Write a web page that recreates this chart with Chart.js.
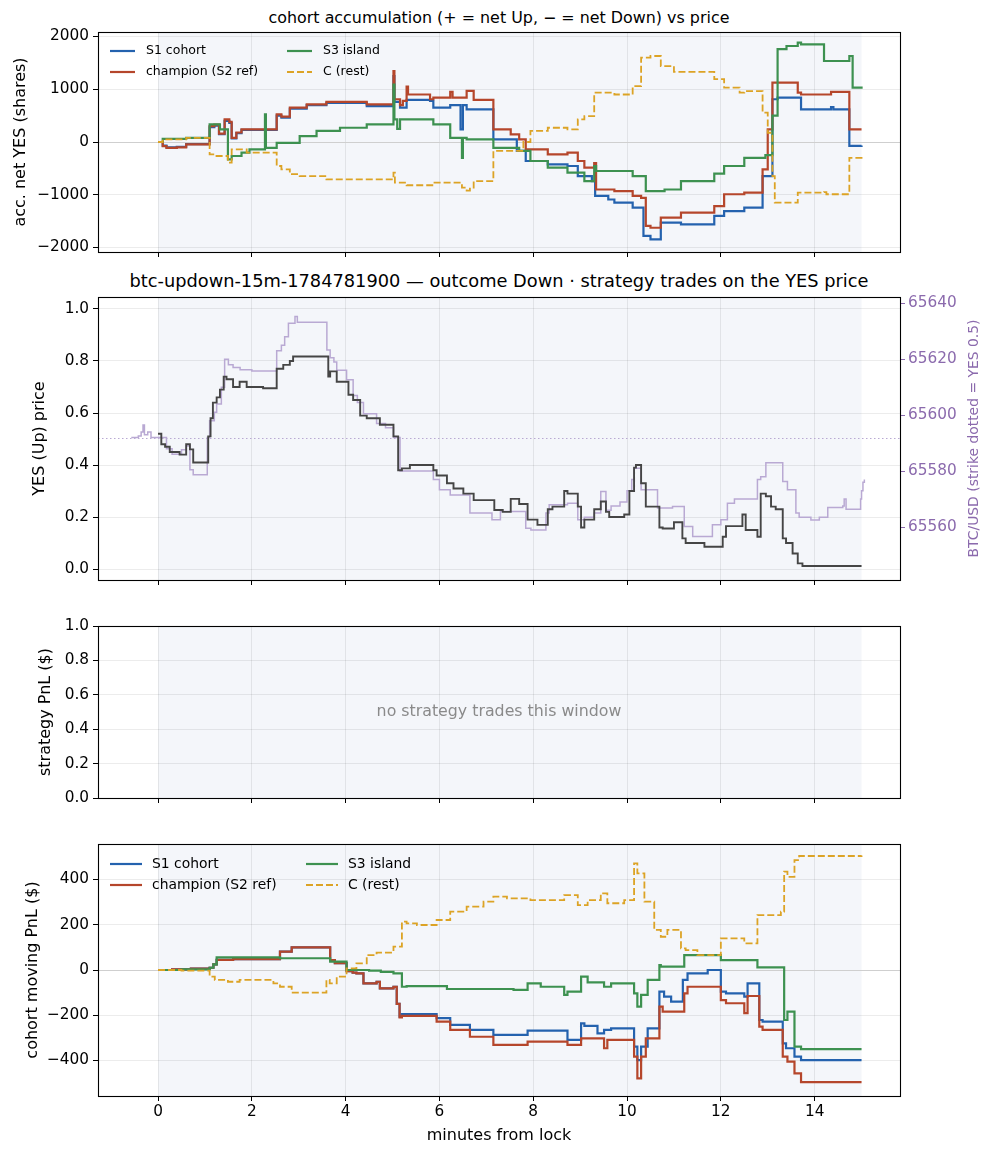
<!DOCTYPE html>
<html>
<head>
<meta charset="utf-8">
<script src="https://cdn.jsdelivr.net/npm/chart.js@4.4.1/dist/chart.umd.min.js"></script>
<style>
  body { margin: 0; background: #fff; width: 993px; height: 1156px; position: relative; overflow: hidden; font-family: "DejaVu Sans", sans-serif; }
  .panel { position: absolute; left: 0; width: 993px; }
  .ttl { position: absolute; left: 98px; width: 802px; text-align: center; color: #000; white-space: nowrap; line-height: 1; }
</style>
</head>
<body>
<div class="ttl" style="top:10px;font-size:15.9px">cohort accumulation (+ = net Up, &minus; = net Down) vs price</div>
<div class="ttl" style="top:272px;font-size:17.8px">btc-updown-15m-1784781900 &mdash; outcome Down &middot; strategy trades on the YES price</div>
<div class="panel" style="top:0;height:268px"><canvas id="accChart" width="993" height="268"></canvas></div>
<div class="panel" style="top:268px;height:332px"><canvas id="priceChart" width="993" height="332"></canvas></div>
<div class="panel" style="top:600px;height:215px"><canvas id="stratChart" width="993" height="215"></canvas></div>
<div class="panel" style="top:815px;height:341px"><canvas id="pnlChart" width="993" height="341"></canvas></div>
<script>
// Axis setup
const xTicks = [0, 2, 4, 6, 8, 10, 12, 14];
const lockSpan = [0, 15];
const accTicks = [-2000, -1000, 0, 1000, 2000];
const yesTicks = [0, 0.2, 0.4, 0.6, 0.8, 1.0];
const btcTicks = [65560, 65580, 65600, 65620, 65640];
const stratTicks = [0, 0.2, 0.4, 0.6, 0.8, 1.0];
const pnlTicks = [-400, -200, 0, 200, 400];
const strikeBtc = 65591.8;

const seriesNames = ['S1 cohort', 'champion (S2 ref)', 'S3 island', 'C (rest)'];

// cohort accumulation: [minutes, net YES shares]
const accS1 = [[0,0],[0.1,-70],[0.18,-100],[0.4,-90],[0.6,-40],[1.1,280],[1.2,310],[1.3,150],[1.42,400],[1.52,360],[1.57,70],[1.67,170],[1.78,230],[2.3,230],[2.53,500],[2.63,460],[2.81,630],[3.17,700],[3.59,740],[4.45,680],[5.02,1250],[5.04,760],[5.16,650],[5.3,800],[5.8,780],[5.87,650],[6.23,700],[6.45,240],[6.5,700],[6.58,620],[7.15,50],[7.65,-170],[7.84,-360],[8.31,-425],[8.73,-455],[8.95,-645],[9.25,-740],[9.32,-1020],[9.6,-1090],[9.73,-1150],[10.12,-1245],[10.35,-1780],[10.5,-1845],[10.72,-1530],[11.15,-1560],[11.86,-1400],[12.07,-1310],[12.5,-1245],[12.89,-645],[13.1,810],[13.21,840],[13.71,620],[14.35,660],[14.4,620],[14.74,-75],[15,-65]];
const accChamp = [[0,0],[0.1,-80],[0.18,-110],[0.4,-100],[0.6,-45],[1.1,300],[1.2,330],[1.3,160],[1.42,430],[1.52,380],[1.57,80],[1.67,180],[1.78,240],[2.3,240],[2.53,525],[2.63,480],[2.81,650],[3.17,715],[3.59,760],[4.45,715],[5.02,1346],[5.04,810],[5.16,700],[5.22,780],[5.3,1050],[5.33,900],[5.8,810],[5.87,840],[6.23,950],[6.28,840],[6.58,970],[6.73,800],[7.15,240],[7.52,145],[7.7,50],[7.84,-140],[8.31,-235],[8.73,-200],[8.95,-360],[9.09,-487],[9.3,-400],[9.34,-900],[9.73,-930],[10.12,-1020],[10.3,-1060],[10.4,-1590],[10.5,-1625],[10.72,-1435],[11.15,-1340],[11.86,-1215],[12.07,-990],[12.5,-960],[12.89,-520],[13.0,240],[13.1,1125],[13.64,935],[13.71,900],[14.35,950],[14.74,240],[15,240]];
const accS3 = [[0,0],[0.1,60],[0.6,80],[1.1,335],[1.32,240],[1.49,-330],[1.57,-265],[1.78,-200],[1.95,-140],[2.28,525],[2.3,-110],[2.53,-15],[3.02,110],[3.38,210],[3.88,270],[4.45,335],[5.02,1090],[5.04,430],[5.1,250],[5.16,430],[5.8,430],[5.87,335],[6.23,80],[6.48,-300],[6.5,80],[6.58,50],[7.15,-110],[7.52,-110],[7.7,-170],[7.94,-360],[8.31,-487],[8.73,-580],[9.09,-740],[9.3,-455],[9.34,-550],[10.12,-645],[10.4,-930],[10.8,-900],[11.15,-740],[11.86,-600],[12.07,-455],[12.5,-300],[12.95,-250],[13.1,500],[13.21,1760],[13.4,1820],[13.64,1885],[13.71,1850],[14.2,1535],[14.74,1630],[14.81,1030],[15,1050]];
const accRest = [[0,0],[0.1,50],[0.6,80],[1.1,-235],[1.2,-265],[1.49,-390],[1.57,-140],[1.89,-200],[2.53,-455],[2.63,-520],[2.81,-610],[3.02,-645],[3.59,-710],[5.02,-580],[5.05,-770],[5.3,-820],[5.87,-770],[6.48,-865],[6.58,-920],[6.65,-865],[6.73,-740],[7.15,-170],[7.52,-170],[7.79,0],[7.94,210],[8.31,270],[8.73,240],[8.95,430],[9.09,490],[9.3,935],[9.73,900],[10.12,1060],[10.3,1600],[10.5,1630],[10.72,1440],[11.0,1330],[11.86,1190],[12.07,1030],[12.4,935],[12.5,965],[12.89,555],[13.0,175],[13.1,-645],[13.15,-1150],[13.64,-960],[14.2,-950],[14.25,-990],[14.74,-300],[15,-285]];

// YES (Up) price and BTC/USD
const yesPrice = [[0,0.52],[0.07,0.48],[0.15,0.47],[0.25,0.45],[0.46,0.44],[0.6,0.48],[0.68,0.46],[0.75,0.41],[1.07,0.51],[1.12,0.58],[1.17,0.64],[1.25,0.66],[1.32,0.69],[1.4,0.74],[1.46,0.73],[1.6,0.70],[1.74,0.72],[1.89,0.70],[2.24,0.695],[2.53,0.77],[2.67,0.785],[2.81,0.80],[2.88,0.817],[3.63,0.74],[3.67,0.76],[3.81,0.72],[4.06,0.67],[4.16,0.65],[4.31,0.59],[4.45,0.58],[4.73,0.555],[5.02,0.51],[5.12,0.38],[5.2,0.387],[5.37,0.40],[5.87,0.38],[5.94,0.36],[6.16,0.33],[6.3,0.31],[6.51,0.29],[6.73,0.265],[7.17,0.227],[7.35,0.22],[7.52,0.27],[7.7,0.25],[7.88,0.19],[8.09,0.17],[8.31,0.23],[8.41,0.24],[8.66,0.30],[8.73,0.29],[8.95,0.24],[9.02,0.16],[9.09,0.19],[9.3,0.23],[9.44,0.26],[9.55,0.22],[9.62,0.20],[9.94,0.21],[10.05,0.30],[10.15,0.39],[10.19,0.40],[10.3,0.33],[10.4,0.24],[10.69,0.16],[10.76,0.156],[11.0,0.18],[11.18,0.118],[11.25,0.10],[11.65,0.086],[12.04,0.124],[12.11,0.165],[12.46,0.21],[12.53,0.15],[12.78,0.124],[12.85,0.29],[12.96,0.28],[13.07,0.24],[13.17,0.23],[13.32,0.118],[13.39,0.10],[13.53,0.06],[13.64,0.022],[13.74,0.012],[15,0.012]];
const btcUsd = [[-0.57,65592],[-0.42,65592.5],[-0.36,65594],[-0.32,65596.5],[-0.29,65593],[-0.22,65594],[-0.15,65592],[0,65592],[0.18,65588],[0.3,65586],[0.5,65587.6],[0.6,65589],[0.68,65580.5],[0.75,65578.7],[1.05,65592],[1.1,65598],[1.2,65601],[1.25,65604],[1.35,65610],[1.42,65620],[1.5,65618],[1.6,65617],[1.75,65616.2],[2.0,65615.8],[2.53,65623],[2.63,65625],[2.7,65628],[2.78,65632.8],[2.92,65635.2],[2.97,65633.2],[3.6,65623.3],[3.67,65620.5],[3.75,65619],[3.81,65616],[4.02,65612.6],[4.16,65607],[4.25,65604.5],[4.38,65600.5],[4.66,65597],[4.85,65595.5],[5.02,65592],[5.16,65580],[5.87,65577],[6.0,65573.3],[6.23,65571.5],[6.65,65565],[7.12,65562.6],[7.3,65565.6],[7.84,65559.6],[7.95,65559],[8.27,65565],[8.34,65568],[8.73,65568.5],[8.95,65562.6],[9.09,65563.5],[9.3,65565],[9.44,65572.7],[9.55,65566],[9.66,65567.5],[9.85,65569],[10.0,65573],[10.1,65577],[10.15,65581],[10.3,65573.3],[10.65,65566.8],[10.97,65567.4],[11.22,65560.2],[11.4,65556.6],[11.82,65560.8],[12.0,65562.6],[12.14,65568.5],[12.29,65570],[12.78,65577],[12.85,65578],[12.96,65583],[13.32,65576.3],[13.42,65573.3],[13.6,65565],[13.67,65563.5],[13.92,65562.5],[14.1,65563.5],[14.28,65567],[14.6,65567.5],[14.63,65570],[14.67,65566.4],[14.95,65566.4],[14.98,65570],[15.0,65573],[15.03,65576],[15.06,65577]];

// cohort moving PnL ($)
const pnlS1 = [[0,0],[0.3,3],[0.7,6],[1.1,10],[1.18,25],[1.25,45],[1.6,48],[2.6,81],[2.85,100],[3.67,44],[3.77,30],[4.02,-5],[4.15,-12],[4.23,-15],[4.38,-59],[4.66,-52],[4.73,-81],[5.02,-75],[5.09,-150],[5.15,-206],[5.2,-195],[5.94,-213],[6.23,-243],[6.65,-265],[7.15,-287],[7.88,-268],[8.73,-309],[9.02,-236],[9.09,-247],[9.37,-280],[9.51,-265],[9.66,-258],[10.15,-339],[10.22,-398],[10.3,-339],[10.44,-258],[10.69,-96],[10.79,-118],[10.94,-140],[11.19,-44],[11.29,-15],[11.72,0],[12.0,-96],[12.11,-103],[12.5,-118],[12.57,-59],[12.82,-221],[12.89,-228],[13.32,-324],[13.39,-346],[13.57,-383],[13.71,-398],[15,-398]];
const pnlChamp = [[0,0],[0.3,3],[0.7,6],[1.1,10],[1.18,25],[1.25,45],[1.6,48],[2.6,81],[2.85,100],[3.67,44],[3.77,30],[4.02,-5],[4.15,-12],[4.23,-15],[4.38,-59],[4.66,-52],[4.73,-81],[5.02,-75],[5.09,-150],[5.15,-210],[5.2,-203],[5.94,-228],[6.23,-265],[6.65,-295],[7.15,-331],[7.88,-317],[8.73,-331],[9.02,-302],[9.51,-346],[9.58,-309],[10.15,-383],[10.22,-479],[10.3,-383],[10.4,-302],[10.69,-162],[10.76,-184],[11.22,-103],[11.29,-74],[12.0,-133],[12.11,-147],[12.5,-191],[12.57,-115],[12.82,-250],[12.89,-265],[13.32,-383],[13.42,-405],[13.57,-457],[13.71,-496],[15,-496]];
const pnlS3 = [[0,0],[0.5,3],[1.1,10],[1.18,25],[1.25,56],[2.6,52],[3.67,37],[4.02,0],[4.5,-3],[4.75,-8],[5.02,-15],[5.2,-74],[5.3,-71],[6.16,-84],[7.58,-88],[7.88,-59],[8.16,-74],[8.66,-110],[8.73,-96],[9.02,-29],[9.16,-55],[9.51,-74],[9.66,-59],[10.15,-103],[10.22,-162],[10.3,-110],[10.44,-44],[10.69,22],[10.72,15],[11.22,66],[12.0,44],[12.78,12],[13.35,-221],[13.42,-184],[13.57,-339],[13.71,-350],[15,-350]];
const pnlRest = [[0,0],[0.5,-3],[1.1,-29],[1.21,-44],[1.49,-52],[1.74,-44],[2.46,-59],[2.6,-74],[2.85,-100],[3.59,-44],[3.66,-59],[3.81,-29],[4.02,7],[4.23,29],[4.45,66],[4.66,77],[5.02,103],[5.2,214],[5.3,206],[5.52,199],[5.94,221],[6.23,258],[6.58,280],[6.94,302],[7.15,324],[7.44,317],[7.94,309],[8.66,331],[8.95,287],[9.16,309],[9.44,339],[9.58,295],[9.94,309],[10.15,471],[10.22,427],[10.37,302],[10.58,177],[10.72,147],[10.86,177],[11.15,96],[11.25,88],[11.5,66],[12.0,140],[12.5,118],[12.78,243],[13.28,258],[13.35,435],[13.42,412],[13.57,486],[13.67,504],[15,506]];

const COLORS = {
    s1: '#2462ae',
    champ: '#b5462b',
    s3: '#3d9150',
    rest: '#dca325',
    yes: '#454545',
    btc: '#b9a9d3',
    btcAxis: '#8b6aad'
};
const FONT = '"DejaVu Sans", sans-serif';
const GRID = 'rgba(0, 0, 0, 0.075)';
const TICK_SIZE = 15.3;
const LABEL_SIZE = 16;

const toPts = arr => arr.map(([x, y]) => ({ x, y }));
const minus = v => String(v).replace('-', '\u2212');

// span shading, reference lines, spines, inside legend
const framePlugin = {
    id: 'frame',
    beforeDraw(chart, args, opts) {
        const { ctx, chartArea: a, scales: { x } } = chart;
        const x0 = x.getPixelForValue(lockSpan[0]);
        const x1 = x.getPixelForValue(lockSpan[1]);
        ctx.save();
        ctx.fillStyle = '#f4f6fa';
        ctx.fillRect(x0, a.top, x1 - x0, a.bottom - a.top);
        ctx.restore();
    },
    beforeDatasetsDraw(chart, args, opts) {
        if (opts.refY == null) return;
        const { ctx, chartArea: a } = chart;
        const py = Math.round(chart.scales[opts.refAxis].getPixelForValue(opts.refY)) + 0.5;
        ctx.save();
        ctx.strokeStyle = opts.refColor;
        ctx.lineWidth = 1;
        ctx.setLineDash(opts.refDash || []);
        ctx.beginPath();
        ctx.moveTo(a.left, py);
        ctx.lineTo(a.right, py);
        ctx.stroke();
        ctx.restore();
    },
    afterDatasetsDraw(chart, args, opts) {
        const { ctx, chartArea: a } = chart;
        ctx.save();
        ctx.strokeStyle = '#000';
        ctx.lineWidth = 1.1;
        ctx.strokeRect(Math.round(a.left) + 0.5, Math.round(a.top) + 0.5, Math.round(a.right - a.left), Math.round(a.bottom - a.top));

        if (opts.note) {
            ctx.fillStyle = '#8a8a8a';
            ctx.font = `15.8px ${FONT}`;
            ctx.textAlign = 'center';
            ctx.textBaseline = 'middle';
            ctx.fillText(opts.note, (a.left + a.right) / 2, (a.top + a.bottom) / 2);
        }

        if (opts.rightTitle) {
            ctx.fillStyle = COLORS.btcAxis;
            ctx.font = `13.9px ${FONT}`;
            ctx.textAlign = 'center';
            ctx.textBaseline = 'middle';
            ctx.translate(opts.rightTitleX, (a.top + a.bottom) / 2);
            ctx.rotate(-Math.PI / 2);
            ctx.fillText(opts.rightTitle, 0, 0);
            ctx.setTransform(1, 0, 0, 1, 0, 0);
        }

        if (opts.legend) {
            const L = opts.legend;
            ctx.font = `${L.size}px ${FONT}`;
            ctx.textAlign = 'left';
            ctx.textBaseline = 'middle';
            const sets = chart.data.datasets;
            seriesNames.forEach((name, i) => {
                const ds = sets.find(d => d.label === name);
                const col = Math.floor(i / 2), row = i % 2;
                const y = a.top + L.top + row * L.rowGap;
                const x0 = a.left + L.colX[col];
                ctx.strokeStyle = ds.borderColor;
                ctx.lineWidth = 2.2;
                ctx.setLineDash(ds.borderDash || []);
                ctx.beginPath();
                ctx.moveTo(x0, y);
                ctx.lineTo(x0 + L.sample, y);
                ctx.stroke();
                ctx.setLineDash([]);
                ctx.fillStyle = '#000';
                ctx.fillText(name, x0 + L.sample + L.textGap, y);
            });
        }
        ctx.restore();
    }
};
Chart.register(framePlugin);

function xScale(showLabels, height) {
    return {
        type: 'linear',
        min: -1.28,
        max: 15.82,
        afterBuildTicks: s => { s.ticks = xTicks.map(v => ({ value: v })); },
        afterFit: s => { s.height = height; },
        border: { display: false },
        grid: { color: GRID, tickColor: '#000', tickLength: 5, lineWidth: 1 },
        ticks: { display: showLabels, color: '#000', padding: 2, font: { family: FONT, size: TICK_SIZE } },
        title: {
            display: showLabels,
            text: 'minutes from lock',
            color: '#000',
            font: { family: FONT, size: LABEL_SIZE },
            padding: { top: 0, bottom: 10.4 }
        }
    };
}

function yScale(min, max, ticks, fmt, title, titlePad) {
    return {
        type: 'linear',
        position: 'left',
        min: min,
        max: max,
        afterBuildTicks: s => { s.ticks = ticks.map(v => ({ value: v })); },
        afterFit: s => { s.width = 98; },
        border: { display: false },
        grid: { color: GRID, tickColor: '#000', tickLength: 5 },
        ticks: { color: '#000', padding: 4, font: { family: FONT, size: TICK_SIZE }, callback: fmt },
        title: { display: true, text: title, color: '#000', font: { family: FONT, size: LABEL_SIZE }, padding: { top: titlePad, bottom: 0 } }
    };
}

// stepped: true draws the flat run first, then the jump (matplotlib "post" steps)
function lineSet(label, data, color, width, order, dash) {
    return {
        label: label,
        data: toPts(data),
        borderColor: color,
        borderWidth: width,
        borderDash: dash || [],
        stepped: true,
        pointRadius: 0,
        fill: false,
        order: order
    };
}

function baseOptions(padTop, padRight, scales, frame) {
    return {
        responsive: false,
        animation: false,
        devicePixelRatio: 1,
        layout: { padding: { top: padTop, left: 0, right: padRight, bottom: 0 } },
        plugins: { legend: { display: false }, tooltip: { enabled: false }, frame: frame },
        scales: scales
    };
}

const fmtMinus = v => minus(v);
const fmt1 = v => v.toFixed(1);

// Panel 1: cohort accumulation
new Chart(document.getElementById('accChart'), {
    type: 'line',
    data: {
        datasets: [
            lineSet(seriesNames[0], accS1, COLORS.s1, 2.2, 3),
            lineSet(seriesNames[1], accChamp, COLORS.champ, 2.2, 2),
            lineSet(seriesNames[2], accS3, COLORS.s3, 2.2, 1),
            lineSet(seriesNames[3], accRest, COLORS.rest, 1.8, 0, [7, 3])
        ]
    },
    options: baseOptions(32, 93, {
        x: xScale(false, 16),
        y: yScale(-2085, 2085, accTicks, fmtMinus, 'acc. net YES (shares)', 10.9)
    }, {
        refY: 0, refAxis: 'y', refColor: '#cfcfcf',
        legend: { size: 12.5, top: 19, rowGap: 21, colX: [12, 189], sample: 25, textGap: 11 }
    })
});

// Panel 2: YES price with BTC on the twin axis
new Chart(document.getElementById('priceChart'), {
    type: 'line',
    data: {
        datasets: [
            Object.assign(lineSet('BTC/USD', btcUsd, COLORS.btc, 1.5, 1), { yAxisID: 'btc' }),
            Object.assign(lineSet('YES (Up) price', yesPrice, COLORS.yes, 1.9, 0), { yAxisID: 'y' })
        ]
    },
    options: baseOptions(29, 0, {
        x: xScale(false, 20),
        y: yScale(-0.042, 1.046, yesTicks, fmt1, 'YES (Up) price', 30.4),
        btc: {
            type: 'linear',
            position: 'right',
            min: 65541.1,
            max: 65642.2,
            afterBuildTicks: s => { s.ticks = btcTicks.map(v => ({ value: v })); },
            afterFit: s => { s.width = 93; },
            border: { display: false },
            grid: { drawOnChartArea: false, tickColor: COLORS.btcAxis, tickLength: 5 },
            ticks: { color: COLORS.btcAxis, padding: 3, font: { family: FONT, size: TICK_SIZE }, callback: v => String(v) }
        }
    }, {
        refY: strikeBtc, refAxis: 'btc', refColor: COLORS.btc, refDash: [1.5, 2.5],
        rightTitle: 'BTC/USD (strike dotted = YES 0.5)', rightTitleX: 974
    })
});

// Panel 3: strategy PnL (empty window)
new Chart(document.getElementById('stratChart'), {
    type: 'line',
    data: { datasets: [] },
    options: baseOptions(26, 93, {
        x: xScale(false, 17),
        y: yScale(0, 1, stratTicks, fmt1, 'strategy PnL ($)', 36.4)
    }, {
        note: 'no strategy trades this window'
    })
});

// Panel 4: cohort moving PnL
new Chart(document.getElementById('pnlChart'), {
    type: 'line',
    data: {
        datasets: [
            lineSet(seriesNames[0], pnlS1, COLORS.s1, 2.2, 3),
            lineSet(seriesNames[1], pnlChamp, COLORS.champ, 2.2, 2),
            lineSet(seriesNames[2], pnlS3, COLORS.s3, 2.2, 1),
            lineSet(seriesNames[3], pnlRest, COLORS.rest, 1.8, 0, [7, 3])
        ]
    },
    options: baseOptions(29, 93, {
        x: xScale(true, 60),
        y: yScale(-557, 557, pnlTicks, fmtMinus, 'cohort moving PnL ($)', 23.4)
    }, {
        refY: 0, refAxis: 'y', refColor: '#cfcfcf',
        legend: { size: 13.9, top: 20, rowGap: 21, colX: [12, 208], sample: 32, textGap: 10 }
    })
});
</script>
</body>
</html>
